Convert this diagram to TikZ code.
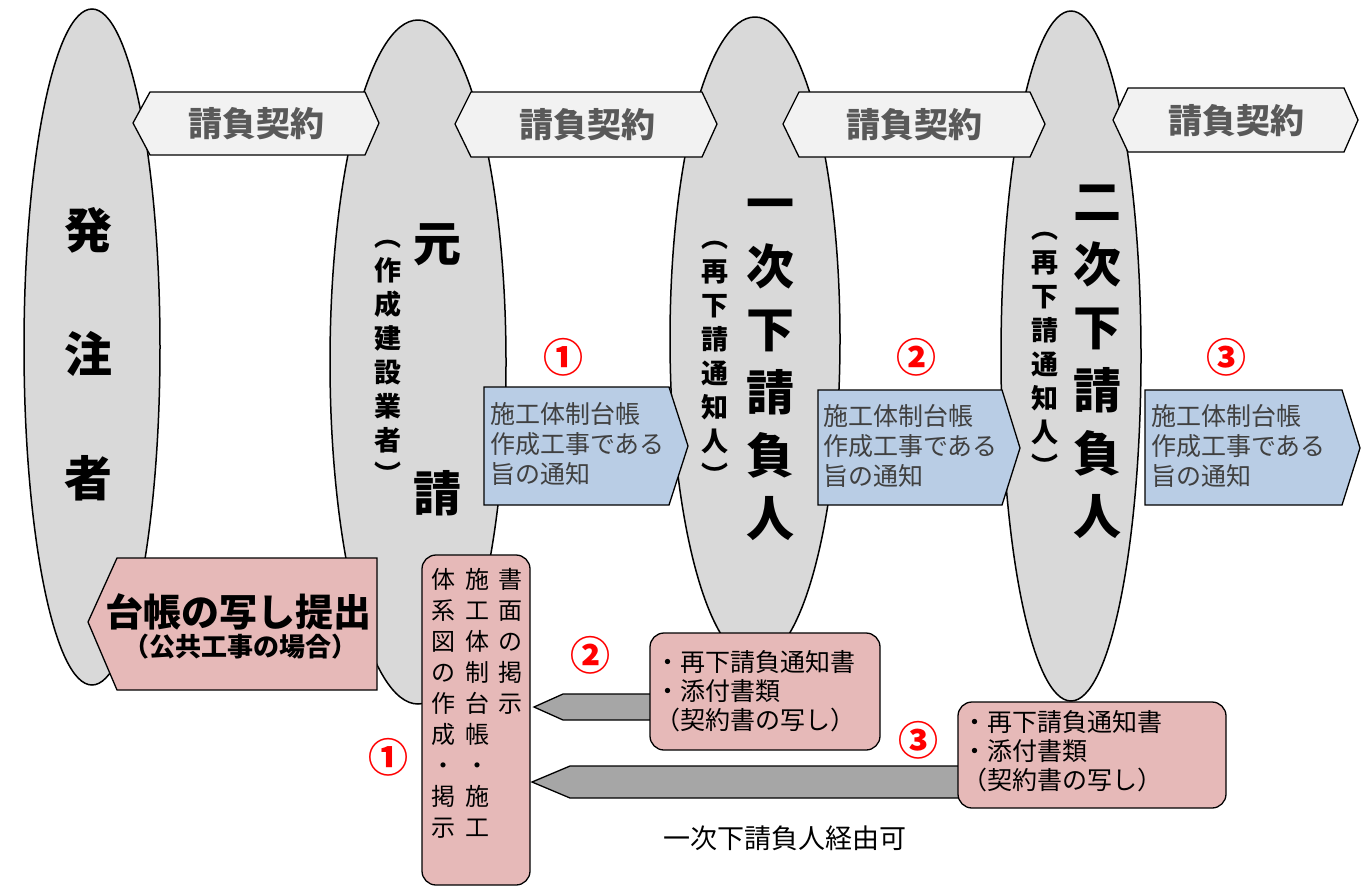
\documentclass[tikz,border=0pt]{standalone}
\usepackage{fontspec}
\setmainfont{Noto Sans CJK JP}
\usetikzlibrary{shapes.geometric}

\definecolor{partygray}{HTML}{D9D9D9}
\definecolor{contractfill}{HTML}{F2F2F2}
\definecolor{contracttxt}{HTML}{595959}
\definecolor{noticeblue}{HTML}{B9CDE5}
\definecolor{noticetxt}{HTML}{404040}
\definecolor{docpink}{HTML}{E6B9B8}
\definecolor{sendgray}{HTML}{A6A6A6}

\begin{document}
\begin{tikzpicture}[x=1pt, y=-1pt,
    party/.style={ellipse, draw, line width=1.5pt, fill=partygray, inner sep=0pt},
    bigname/.style={font=\fontsize{48}{63}\selectfont\bfseries, align=center, inner sep=0pt},
    subname/.style={font=\fontsize{27}{34}\selectfont\bfseries, align=center, inner sep=0pt},
    contract/.style={draw, line width=1.3pt, fill=contractfill},
    contracttext/.style={font=\fontsize{34}{40}\selectfont\bfseries, text=contracttxt},
    notice/.style={draw, line width=1.3pt, fill=noticeblue},
    noticetext/.style={font=\fontsize{25}{30}\selectfont, text=noticetxt, align=left,
                       anchor=west, inner sep=0pt},
    docbox/.style={draw, line width=1.3pt, fill=docpink, rounded corners=14pt},
    doctext/.style={font=\fontsize{25}{29}\selectfont, align=left, anchor=west, inner sep=0pt},
    sendarrow/.style={draw, line width=1.3pt, fill=sendgray},
    stepno/.style={font=\fontsize{40}{44}\selectfont\bfseries, text=red, inner sep=0pt},
    vcol/.style={font=\fontsize{24}{31}\selectfont, align=center, anchor=north, inner sep=0pt},
]
\useasboundingbox (0,0) rectangle (1367,887);

% parties
\node[party, minimum width=136pt, minimum height=676pt] (hatchu) at (92,347) {};
\node[party, minimum width=176pt, minimum height=684pt] (moto) at (418,362) {};
\node[party, minimum width=170pt, minimum height=644pt] (ichiji) at (755,339) {};
\node[party, minimum width=140pt, minimum height=690pt] (niji) at (1071,356) {};

\node[bigname, font=\fontsize{48}{124}\selectfont\bfseries] (hatchu-name) at (88,354) {発\\注\\者};
\node[bigname] (moto-name1) at (437,245) {元};
\node[bigname] (moto-name2) at (437,493) {請};
\node[subname] (moto-sub) at (388,362) {︵\\作\\成\\建\\設\\業\\者\\︶};
\node[bigname] (ichiji-name) at (770,370) {一\\次\\下\\請\\負\\人};
\node[subname] (ichiji-sub) at (715,363) {︵\\再\\下\\請\\通\\知\\人\\︶};
\node[bigname] (niji-name) at (1097,362) {二\\次\\下\\請\\負\\人};
\node[subname] (niji-sub) at (1045,354) {︵\\再\\下\\請\\通\\知\\人\\︶};

% contracts
\draw[contract] (133,123) -- (150,92) -- (365,92) -- (379,123) -- (365,155) -- (150,155) -- cycle;
\draw[contract] (455,124) -- (471,92) -- (702,92) -- (717,124) -- (702,157) -- (471,157) -- cycle;
\draw[contract] (783,124) -- (799,92) -- (1030,92) -- (1045,124) -- (1030,157) -- (799,157) -- cycle;
\draw[contract] (1113,120) -- (1128,88) -- (1344,88) -- (1358,120) -- (1344,152) -- (1128,152) -- cycle;
\node[contracttext] (keiyaku1) at (256,124) {請負契約};
\node[contracttext] (keiyaku2) at (587,125) {請負契約};
\node[contracttext] (keiyaku3) at (914,125) {請負契約};
\node[contracttext] (keiyaku4) at (1236,121) {請負契約};

% notices
\draw[notice] (484,387) -- (669,387) -- (688,446) -- (669,505) -- (484,505) -- cycle;
\draw[notice] (818,390) -- (1002,390) -- (1020,448) -- (1002,505) -- (818,505) -- cycle;
\draw[notice] (1145,390) -- (1342,390) -- (1360,448) -- (1342,505) -- (1145,505) -- cycle;
\node[noticetext] (tsuchi1) at (490,444) {施工体制台帳\\作成工事である\\旨の通知};
\node[noticetext] (tsuchi2) at (823,446) {施工体制台帳\\作成工事である\\旨の通知};
\node[noticetext] (tsuchi3) at (1151,446) {施工体制台帳\\作成工事である\\旨の通知};
\node[stepno] (no1a) at (563,357) {①};
\node[stepno] (no2a) at (916,357) {②};
\node[stepno] (no3a) at (1226,357) {③};

% submission to client
\draw[docbox, rounded corners=0pt] (117,558) -- (377,558) -- (377,690) -- (117,690) -- (88,622) -- cycle;
\node[font=\fontsize{38}{42}\selectfont\bfseries] (teishutsu) at (238,612) {台帳の写し提出};
\node[font=\fontsize{26}{30}\selectfont\bfseries] (koukyo) at (240,647) {（公共工事の場合）};

% ledger box
\node[docbox, minimum width=108pt, minimum height=330pt] (taisei) at (476,720) {};
\node[vcol] (taisei-c1) at (510,568) {書\\面\\の\\掲\\示};
\node[vcol] (taisei-c2) at (477,568) {施\\工\\体\\制\\台\\帳\\・\\施\\工};
\node[vcol] (taisei-c3) at (443,568) {体\\系\\図\\の\\作\\成\\・\\掲\\示};
\node[stepno] (no1b) at (388,757) {①};

% documents sent up
\draw[sendarrow] (534,707) -- (563,694) -- (665,694) -- (665,720) -- (563,720) -- cycle;
\draw[sendarrow] (532,782) -- (570,766) -- (975,766) -- (975,798) -- (570,798) -- cycle;
\node[docbox, minimum width=230pt, minimum height=117pt] (shorui2) at (765,691.5) {};
\node[doctext] (shorui2-text) at (655,691) {・再下請負通知書\\・添付書類\\（契約書の写し）};
\node[docbox, minimum width=268pt, minimum height=106pt] (shorui3) at (1092,755) {};
\node[doctext] (shorui3-text) at (962,751) {・再下請負通知書\\・添付書類\\（契約書の写し）};
\node[stepno] (no2b) at (590,655) {②};
\node[stepno] (no3b) at (918,740) {③};

\node[font=\fontsize{27}{30}\selectfont] (keiyu) at (785,838) {一次下請負人経由可};

\end{tikzpicture}
\end{document}
